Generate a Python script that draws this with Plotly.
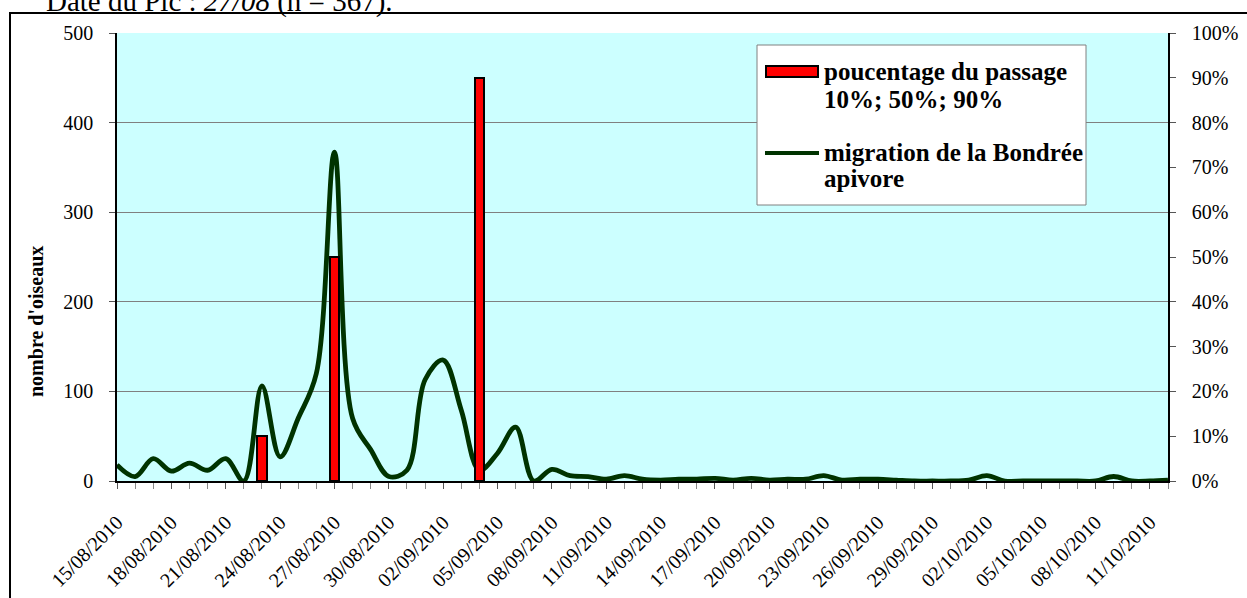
import pandas as pd
import plotly.graph_objects as go

# ---------------- data ----------------
start_date = "2010-08-15"
end_date = "2010-10-12"
dates = pd.date_range(start_date, end_date, freq="D")

counts = [18, 5, 25, 11, 20, 12, 25, 0, 106, 27, 70, 120, 367, 70, 35, 5, 12,
          113, 135, 79, 12, 31, 60, 0, 13, 6, 5,
          2, 6, 2, 1, 2, 2, 3, 1, 3, 1, 2, 2, 6, 1, 2, 2, 1, 0, 0, 0, 1, 6,
          0, 0, 0, 0, 0, 0, 5, 0, 0, 1]

bar_dates = ["2010-08-23", "2010-08-27", "2010-09-04"]
bar_pct = [0.10, 0.50, 0.90]

bar_label_lines = ["poucentage du passage", "10%; 50%; 90%"]
line_label_lines = ["migration de la Bondrée", "apivore"]
y_title = "nombre d'oiseaux"
top_text = "Date du Pic : <i>27/08</i> (n = 367)."

# ---------------- layout helpers ----------------
W, H = 1247, 598
L, R, T, B = 117, 1168, 33, 481
DAY_MS = 86400000


def px(x):
    return (x - L) / (R - L)


def py(y):
    return (B - y) / (B - T)


FONT = "Liberation Serif, Times New Roman, serif"

fig = go.Figure()

fig.add_trace(go.Scatter(
    x=dates, y=counts, mode="lines", name=" ".join(line_label_lines),
    line=dict(color="#003300", width=4.8, shape="spline", smoothing=1),
    yaxis="y", showlegend=False,
))

fig.add_trace(go.Bar(
    x=pd.to_datetime(bar_dates), y=bar_pct, name=" ".join(bar_label_lines),
    width=0.5 * DAY_MS,
    marker=dict(color="#FF0000", line=dict(color="#000000", width=2)),
    yaxis="y2", showlegend=False,
))

shapes = [
    # outer chart frame (cropped on right/bottom)
    dict(type="rect", xref="paper", yref="paper",
         x0=px(10), x1=px(1260), y0=py(13), y1=py(620),
         line=dict(color="black", width=2), fillcolor="rgba(0,0,0,0)", layer="above"),
    # legend box
    dict(type="rect", xref="paper", yref="paper",
         x0=px(757), x1=px(1086), y0=py(45), y1=py(205),
         line=dict(color="#808080", width=1), fillcolor="white", layer="above"),
    # legend bar symbol
    dict(type="rect", xref="paper", yref="paper",
         x0=px(766), x1=px(818), y0=py(66), y1=py(77),
         line=dict(color="black", width=2), fillcolor="#FF0000", layer="above"),
    # legend line symbol
    dict(type="line", xref="paper", yref="paper",
         x0=px(765), x1=px(819), y0=py(153), y1=py(153),
         line=dict(color="#003300", width=4), layer="above"),
]

legend_font = dict(family=FONT, size=25, color="black", weight="bold")
legend_rows = [
    (bar_label_lines[0], 72),
    (bar_label_lines[1], 99),
    (line_label_lines[0], 152),
    (line_label_lines[1], 179),
]

annotations = [
    dict(text=txt, xref="paper", yref="paper", x=px(822), y=py(yc),
         xanchor="left", yanchor="middle", align="left", showarrow=False,
         font=legend_font)
    for txt, yc in legend_rows
]
annotations += [
    dict(text=y_title, xref="paper", yref="paper", x=px(36), y=py(322),
         xanchor="center", yanchor="middle", textangle=-90, showarrow=False,
         font=dict(family=FONT, size=20, color="black", weight="bold")),
    dict(text=top_text, xref="paper", yref="paper", x=px(44), y=py(1),
         xanchor="left", yanchor="middle", showarrow=False,
         font=dict(family=FONT, size=29, color="black")),
]

fig.update_layout(
    width=W, height=H,
    margin=dict(l=L, r=W - R, t=T, b=H - B, autoexpand=False),
    paper_bgcolor="white",
    plot_bgcolor="#CCFFFF",
    font=dict(family=FONT, color="black"),
    bargap=0,
    xaxis=dict(
        type="date", automargin=False,
        range=[start_date, end_date],
        tick0=start_date, dtick=3 * DAY_MS,
        tickformat="%d/%m/%Y", tickangle=-45,
        tickfont=dict(family=FONT, size=20, color="black"),
        ticks="outside", ticklen=6, tickcolor="#555555", tickwidth=1,
        ticklabelstandoff=14,
        minor=dict(dtick=DAY_MS, tick0=start_date, ticks="outside",
                   ticklen=6, tickcolor="#888888", tickwidth=1, showgrid=False),
        showgrid=False, zeroline=False,
        showline=True, linecolor="black", linewidth=1.5,
    ),
    yaxis=dict(
        automargin=False,
        range=[0, 500], dtick=100, tick0=0,
        tickfont=dict(family=FONT, size=20, color="black"),
        ticks="outside", ticklen=6, tickcolor="#555555",
        ticklabelstandoff=12,
        showgrid=True, gridcolor="#808080", gridwidth=1,
        zeroline=False,
        showline=True, linecolor="black", linewidth=1.5,
    ),
    yaxis2=dict(
        automargin=False,
        range=[0, 1], dtick=0.1, tick0=0, tickformat=".0%",
        overlaying="y", side="right",
        tickfont=dict(family=FONT, size=20, color="black"),
        ticks="outside", ticklen=6, tickcolor="#555555",
        ticklabelstandoff=12,
        showgrid=False, zeroline=False,
        showline=True, linecolor="black", linewidth=1.5,
    ),
    shapes=shapes,
    annotations=annotations,
)

fig.write_html(
    "out.html",
    config={"displayModeBar": False},
    post_script="document.body.style.margin='0';document.body.style.overflow='hidden';",
)
